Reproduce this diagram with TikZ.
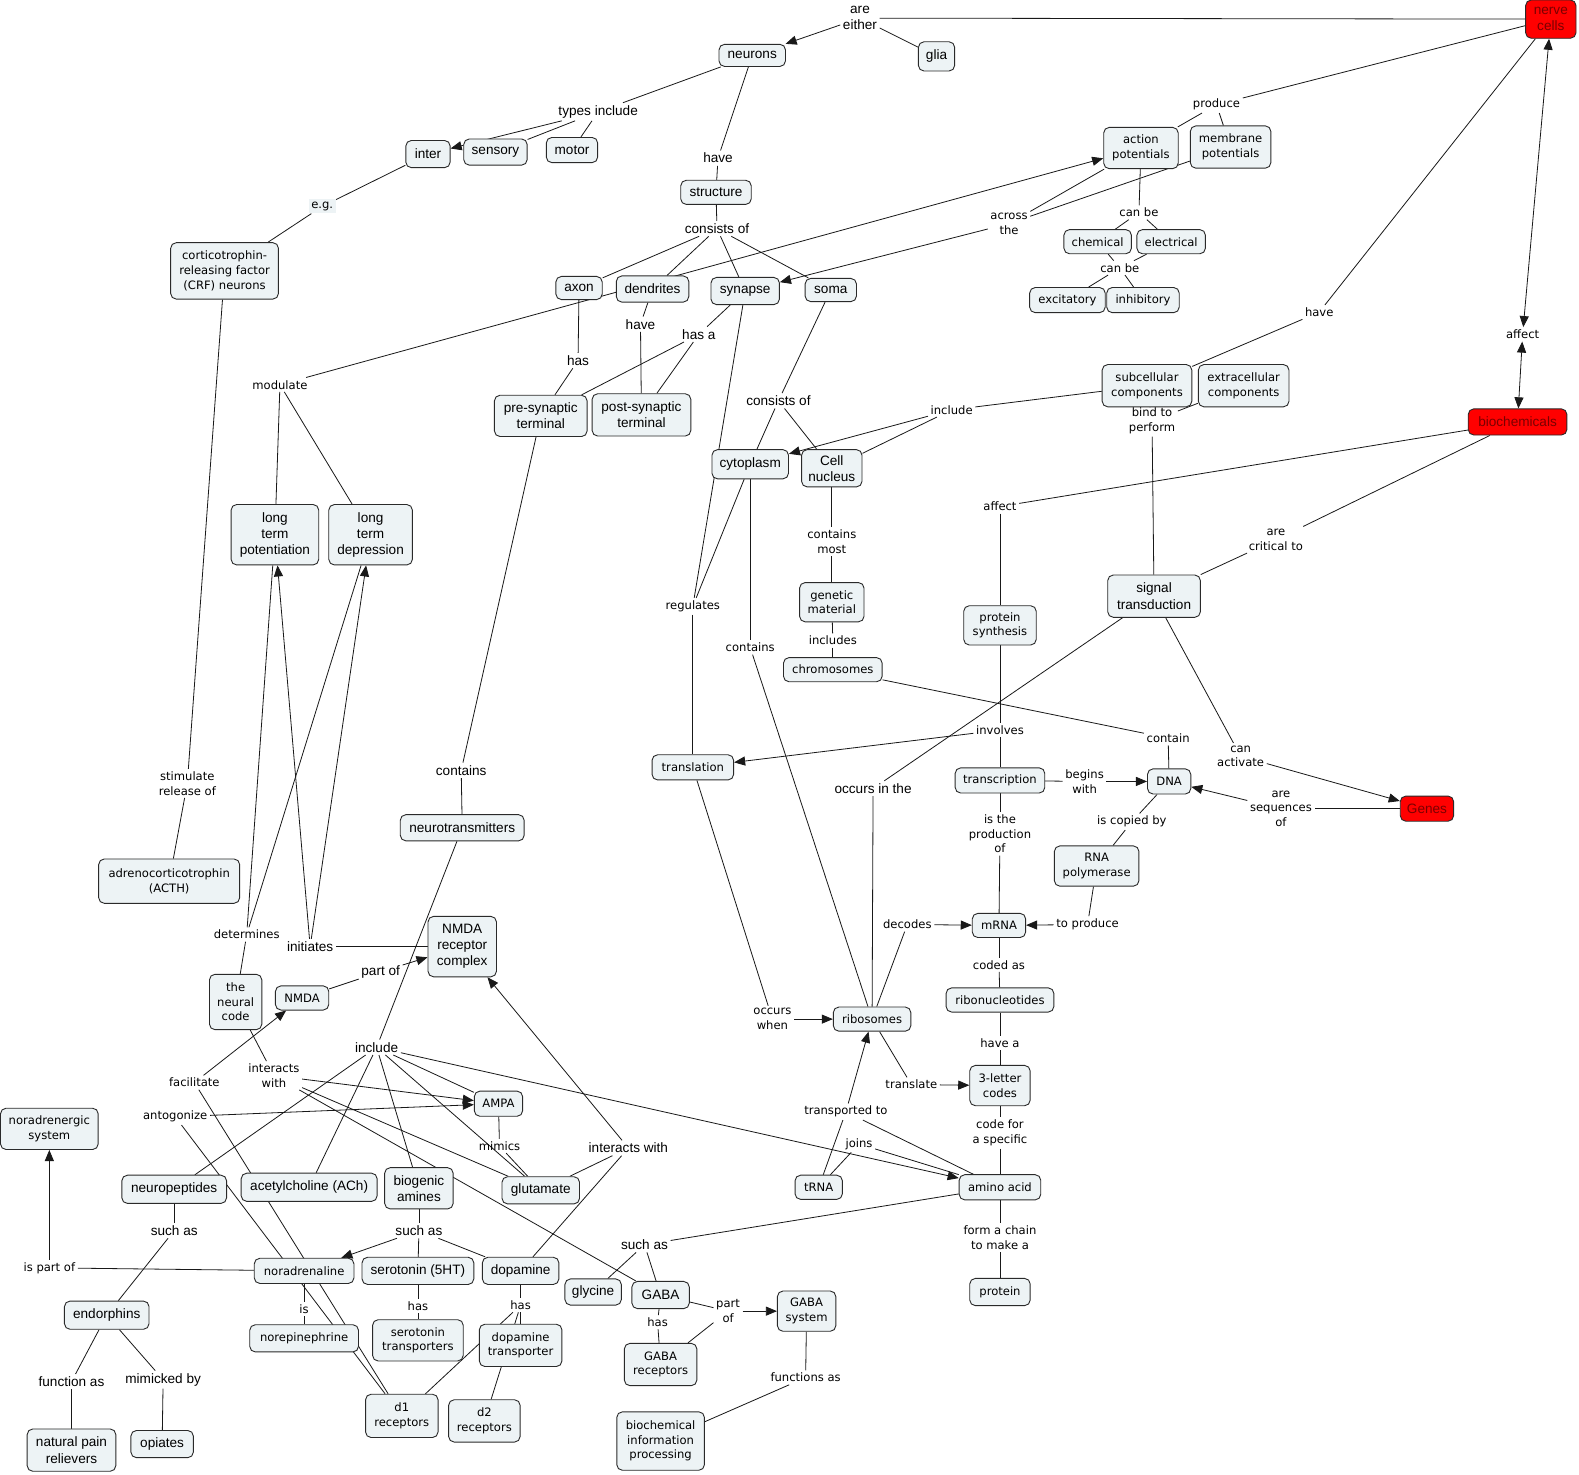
\documentclass[tikz,border=0pt]{standalone}
\usepackage{fontspec}
\usetikzlibrary{arrows.meta,backgrounds}
\newfontfamily\arialf{Liberation Sans}
\newfontfamily\verdf{DejaVu Sans}
\newcommand\fA{\arialf\fontsize{13.5}{16}\selectfont}
\newcommand\fV{\verdf\fontsize{11.5}{14.5}\selectfont}
\definecolor{cfill}{HTML}{EDF3F5}
\definecolor{cbord}{HTML}{2A2A2A}
\definecolor{rfill}{HTML}{FF0000}
\definecolor{rtext}{HTML}{7A0000}
\tikzset{
 cbox/.style={draw=cbord, line width=0.9pt, rounded corners=5.5pt, fill=cfill, align=center, inner xsep=2pt, inner ysep=1pt},
 cA/.style={cbox, font=\fA},
 cV/.style={cbox, font=\fV},
 cR/.style={cbox, fill=rfill, text=rtext, font=\fA},
 sz/.style 2 args={minimum width=#1pt, minimum height=#2pt},
 lA/.style={align=center, inner sep=2.5pt, font=\fA},
 lV/.style={align=center, inner sep=2.5pt, font=\fV},
 ln/.style={draw=black!90, line width=0.8pt},
 ar/.style={ln, -{Triangle[length=11pt,width=9pt]}},
 dar/.style={ln, {Triangle[length=11pt,width=9pt]}-{Triangle[length=11pt,width=9pt]}},
}
\begin{document}
\begin{tikzpicture}[x=1pt,y=-1pt]
\useasboundingbox (0,0) rectangle (1568,1464);
% ---------- concepts ----------
\node[cR,sz={50}{38}] (nerve) at (1540,19) {nerve\\cells};
\node[cA,sz={66}{22}] (neurons) at (747,55) {neurons};
\node[cA,sz={36}{29}] (glia) at (930,56) {glia};
\node[cA,sz={44}{27}] (inter) at (425,153) {inter};
\node[cA,sz={63}{26}] (sensory) at (492,151) {sensory};
\node[cA,sz={51}{25}] (motor) at (568,149) {motor};
\node[cA,sz={70}{24}] (structure) at (711,191) {structure};
\node[cV,sz={107}{56}] (corti) at (223,269) {corticotrophin-\\releasing factor\\(CRF) neurons};
\node[cA,sz={46}{23}] (axon) at (575,286) {axon};
\node[cA,sz={72}{26}] (dendrites) at (648,287) {dendrites};
\node[cA,sz={68}{27}] (synapse) at (740,289) {synapse};
\node[cA,sz={51}{23}] (soma) at (825,288) {soma};
\node[cV,sz={74}{41}] (actpot) at (1133,147) {action\\potentials};
\node[cV,sz={80}{42}] (mempot) at (1222,146) {membrane\\potentials};
\node[cV,sz={67}{24}] (chemical) at (1090,240) {chemical};
\node[cV,sz={68}{24}] (electrical) at (1163,240) {electrical};
\node[cV,sz={75}{25}] (excit) at (1060,298) {excitatory};
\node[cV,sz={72}{25}] (inhib) at (1135,298) {inhibitory};
\node[cV,sz={89}{42}] (subcell) at (1139,383) {subcellular\\components};
\node[cV,sz={90}{42}] (extracell) at (1235,383) {extracellular\\components};
\node[cR,sz={98}{26}] (biochem) at (1507,419) {biochemicals};
\node[cA,sz={92}{41}] (presyn) at (537,413) {pre-synaptic\\terminal};
\node[cA,sz={98}{42}] (postsyn) at (637,412) {post-synaptic\\terminal};
\node[cA,sz={76}{29}] (cyto) at (745,461) {cytoplasm};
\node[cA,sz={60}{37}] (nucleus) at (826,465) {Cell\\nucleus};
\node[cA,sz={87}{60}] (ltp) at (273,531) {long\\term\\potentiation};
\node[cA,sz={83}{60}] (ltd) at (368,531) {long\\term\\depression};
\node[cV,sz={64}{39}] (genetic) at (826,598) {genetic\\material};
\node[cV,sz={98}{24}] (chromo) at (827,665) {chromosomes};
\node[cV,sz={72}{39}] (protsyn) at (993,621) {protein\\synthesis};
\node[cA,sz={92}{42}] (signal) at (1146,592) {signal\\transduction};
\node[cV,sz={81}{25}] (translation) at (688,762) {translation};
\node[cV,sz={89}{25}] (transcription) at (993,775) {transcription};
\node[cV,sz={43}{25}] (dna) at (1161,776) {DNA};
\node[cR,sz={53}{25}] (genes) at (1417,803) {Genes};
\node[cV,sz={84}{40}] (rnapol) at (1089,860) {RNA\\polymerase};
\node[cV,sz={53}{24}] (mrna) at (992,919) {mRNA};
\node[cV,sz={107}{24}] (ribonuc) at (993,993) {ribonucleotides};
\node[cV,sz={77}{24}] (ribosomes) at (866,1012) {ribosomes};
\node[cV,sz={60}{40}] (codes) at (993,1078) {3-letter\\codes};
\node[cV,sz={47}{24}] (trna) at (813,1179) {tRNA};
\node[cV,sz={81}{25}] (amino) at (993,1179) {amino acid};
\node[cV,sz={60}{27}] (protein) at (993,1283) {protein};
\node[cA,sz={123}{26}] (neurotrans) at (459,822) {neurotransmitters};
\node[cV,sz={140}{44}] (acth) at (168,875) {adrenocorticotrophin\\(ACTH)};
\node[cA,sz={68}{60}] (nmdarc) at (459,940) {NMDA\\receptor\\complex};
\node[cV,sz={52}{55}] (neuralcode) at (234,995) {the\\neural\\code};
\node[cV,sz={53}{24}] (nmda) at (300,991) {NMDA};
\node[cV,sz={48}{25}] (ampa) at (495,1096) {AMPA};
\node[cV,sz={97}{41}] (noradsys) at (49,1121) {noradrenergic\\system};
\node[cA,sz={104}{28}] (neuropep) at (173,1181) {neuropeptides};
\node[cA,sz={135}{28}] (ach) at (307,1179) {acetylcholine (ACh)};
\node[cA,sz={68}{41}] (biogenic) at (416,1180) {biogenic\\amines};
\node[cA,sz={77}{27}] (glutamate) at (537,1182) {glutamate};
\node[cV,sz={99}{25}] (noradrenaline) at (302,1262) {noradrenaline};
\node[cA,sz={111}{27}] (serotonin) at (415,1262) {serotonin (5HT)};
\node[cA,sz={76}{27}] (dopamine) at (517,1262) {dopamine};
\node[cA,sz={56}{26}] (glycine) at (589,1283) {glycine};
\node[cA,sz={57}{27}] (gaba) at (656,1286) {GABA};
\node[cV,sz={58}{40}] (gabasys) at (801,1302) {GABA\\system};
\node[cA,sz={84}{28}] (endorphins) at (106,1306) {endorphins};
\node[cV,sz={108}{27}] (norepi) at (302,1329) {norepinephrine};
\node[cV,sz={90}{41}] (serotrans) at (415,1331) {serotonin\\transporters};
\node[cV,sz={82}{42}] (dopatrans) at (517,1336) {dopamine\\transporter};
\node[cV,sz={72}{42}] (gabarec) at (656,1355) {GABA\\receptors};
\node[cV,sz={72}{43}] (d1) at (399,1406) {d1\\receptors};
\node[cV,sz={71}{42}] (d2) at (481,1411) {d2\\receptors};
\node[cA,sz={88}{42}] (natural) at (71,1440) {natural pain\\relievers};
\node[cA,sz={62}{27}] (opiates) at (161,1434) {opiates};
\node[cV,sz={87}{58}] (biochinfo) at (656,1431) {biochemical\\information\\processing};
% ---------- linking phrases ----------
\node[lA] (areeither) at (854,18) {are\\either};
\node[lA] (typesinc) at (594,111) {types include};
\node[lA] (have1) at (713,157) {have};
\node[lA] (consists1) at (712,227) {consists of};
\node[lV, fill=cfill] (eg) at (320,205) {e.g.};
\node[lV] (produce) at (1208,104) {produce};
\node[lV] (across) at (1002,222) {across\\the};
\node[lV] (canbe1) at (1131,211) {can be};
\node[lV] (canbe2) at (1112,266) {can be};
\node[lV] (have2) at (1310,310) {have};
\node[lV] (affect1) at (1512,332) {affect};
\node[lV] (bind) at (1144,418) {bind to\\perform};
\node[lV] (include1) at (945,407) {include};
\node[lA] (have3) at (636,322) {have};
\node[lA] (hasa) at (694,332) {has a};
\node[lA] (has1) at (574,358) {has};
\node[lV] (modulate) at (278,382) {modulate};
\node[lA] (consists2) at (773,398) {consists of};
\node[lV] (affect2) at (993,503) {affect};
\node[lV] (critical) at (1267,536) {are\\critical to};
\node[lV] (containsmost) at (826,538) {contains\\most};
\node[lV] (regulates) at (688,602) {regulates};
\node[lV] (includes) at (827,636) {includes};
\node[lV] (contains1) at (745,643) {contains};
\node[lV] (involves) at (993,725) {involves};
\node[lV] (contain) at (1160,733) {contain};
\node[lV] (begins) at (1077,776) {begins\\with};
\node[lV] (canact) at (1232,751) {can\\activate};
\node[lV] (aresequences) at (1272,803) {are\\sequences\\of};
\node[lV] (copied) at (1124,816) {is copied by};
\node[lA] (occursin) at (867,783) {occurs in the};
\node[lV] (production) at (993,828) {is the\\production\\of};
\node[lV] (decodes) at (901,918) {decodes};
\node[lV] (toproduce) at (1080,918) {to produce};
\node[lV] (codedas) at (992,958) {coded as};
\node[lV] (occurswhen) at (767,1012) {occurs\\when};
\node[lV] (havea) at (993,1036) {have a};
\node[lV] (translate) at (905,1077) {translate};
\node[lV] (transported) at (840,1104) {transported to};
\node[lV] (codefor) at (993,1125) {code for\\a specific};
\node[lV] (joins) at (853,1136) {joins};
\node[lV] (formchain) at (993,1229) {form a chain\\to make a};
\node[lA] (suchas3) at (640,1236) {such as};
\node[lV] (has5) at (653,1313) {has};
\node[lV] (partof2) at (723,1302) {part\\of};
\node[lV] (functions) at (800,1368) {functions as};
\node[lA] (contains2) at (458,765) {contains};
\node[lV] (stimulate) at (186,778) {stimulate\\release of};
\node[lV] (determines) at (245,928) {determines};
\node[lA] (initiates) at (308,940) {initiates};
\node[lA] (partof1) at (378,965) {part of};
\node[lA] (include2) at (374,1040) {include};
\node[lV] (facilitate) at (193,1075) {facilitate};
\node[lV] (interacts1) at (272,1068) {interacts\\with};
\node[lV] (antogonize) at (174,1109) {antogonize};
\node[lV] (mimics) at (496,1138) {mimics};
\node[lA] (interacts2) at (624,1140) {interacts with};
\node[lA] (suchas1) at (173,1222) {such as};
\node[lA] (suchas2) at (416,1222) {such as};
\node[lV] (ispartof) at (49,1259) {is part of};
\node[lV] (is) at (302,1300) {is};
\node[lV] (has2) at (415,1297) {has};
\node[lV] (has3) at (517,1296) {has};
\node[lA] (functionas) at (71,1372) {function as};
\node[lA] (mimicked) at (162,1370) {mimicked by};
% ---------- connectors ----------
\begin{pgfonlayer}{background}
\fill[white] (0,0) rectangle (1568,1464);
\foreach \a/\b in {nerve/areeither, areeither/glia, nerve/produce, produce/actpot, produce/mempot,
  nerve/have2, have2/subcell, biochem/affect2, affect2/protsyn, biochem/critical, critical/signal,
  subcell/bind, extracell/bind, bind/signal, subcell/include1, include1/nucleus,
  neurons/typesinc, typesinc/sensory, typesinc/motor, neurons/have1, have1/structure,
  structure/consists1, consists1/axon, consists1/dendrites, consists1/synapse, consists1/soma,
  inter/eg, eg/corti, corti/stimulate, stimulate/acth, axon/has1, has1/presyn,
  dendrites/have3, have3/postsyn, synapse/hasa, hasa/presyn, hasa/postsyn,
  soma/consists2, consists2/cyto, consists2/nucleus, actpot/across, mempot/across,
  modulate/ltp, modulate/ltd, actpot/canbe1, canbe1/chemical, canbe1/electrical,
  chemical/canbe2, electrical/canbe2, canbe2/excit, canbe2/inhib,
  synapse/regulates, cyto/regulates, regulates/translation, cyto/contains1, contains1/ribosomes,
  nucleus/containsmost, containsmost/genetic, genetic/includes, includes/chromo,
  chromo/contain, contain/dna, signal/occursin, occursin/ribosomes, signal/canact,
  genes/aresequences, protsyn/involves, involves/transcription, transcription/begins,
  dna/copied, copied/rnapol, rnapol/toproduce, transcription/production, production/mrna,
  ribosomes/decodes, mrna/codedas, codedas/ribonuc, ribonuc/havea, havea/codes,
  ribosomes/translate, translation/occurswhen, codes/codefor, codefor/amino,
  trna/transported, amino/transported, trna/joins, joins/amino, amino/formchain, formchain/protein,
  amino/suchas3, suchas3/glycine, suchas3/gaba, gaba/has5, has5/gabarec, gaba/partof2, partof2/gabarec,
  gabasys/functions, functions/biochinfo, presyn/contains2, contains2/neurotrans, neurotrans/include2,
  include2/neuropep, include2/ach, include2/biogenic, include2/ampa, include2/glutamate,
  ltp/determines, ltd/determines, determines/neuralcode, nmdarc/initiates, nmda/partof1,
  neuralcode/interacts1, interacts1/glutamate, interacts1/gaba, facilitate/d1, antogonize/d1,
  ampa/mimics, mimics/glutamate, glutamate/interacts2, dopamine/interacts2,
  neuropep/suchas1, suchas1/endorphins, biogenic/suchas2, suchas2/serotonin, suchas2/dopamine,
  noradrenaline/ispartof, noradrenaline/is, is/norepi, serotonin/has2, has2/serotrans,
  dopamine/has3, has3/dopatrans, has3/d1, has3/d2, endorphins/functionas, functionas/natural,
  endorphins/mimicked, mimicked/opiates}
  {\draw[ln] (\a) -- (\b);}
\foreach \a/\b in {areeither/neurons, include1/cyto, typesinc/inter, across/synapse, modulate/actpot,
  canact/genes, aresequences/dna, involves/translation, begins/dna, toproduce/mrna, decodes/mrna,
  translate/codes, occurswhen/ribosomes, transported/ribosomes, include2/amino, partof2/gabasys,
  initiates/ltp, initiates/ltd, partof1/nmdarc, interacts1/ampa, facilitate/nmda, antogonize/ampa,
  interacts2/nmdarc, suchas2/noradrenaline, ispartof/noradsys}
  {\draw[ar] (\a) -- (\b);}
\draw[dar] (nerve) -- (affect1);
\draw[dar] (affect1) -- (biochem);
\end{pgfonlayer}
\end{tikzpicture}
\end{document}
